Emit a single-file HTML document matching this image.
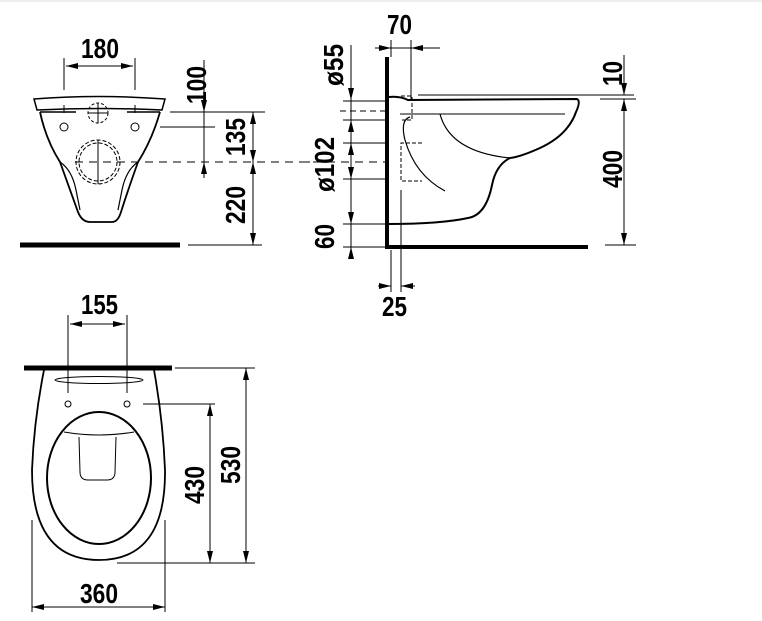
<!DOCTYPE html>
<html><head><meta charset="utf-8"><style>
html,body{margin:0;padding:0;background:#fff;}
svg{display:block;}
text{font-family:"Liberation Sans",sans-serif;font-weight:bold;font-size:28px;fill:#000;}
</style></head><body>
<svg width="762" height="621" viewBox="0 0 762 621" xmlns="http://www.w3.org/2000/svg">
<defs>
<marker id="a" viewBox="0 0 12 6" refX="12" refY="3" markerWidth="12" markerHeight="6" orient="auto-start-reverse" markerUnits="userSpaceOnUse"><path d="M0,0 L12,3 L0,6 Z" fill="#000"/></marker>
</defs>
<line x1="0" y1="1" x2="762" y2="1" stroke="#eee" stroke-width="2"/>
<g stroke="#000" fill="none" stroke-width="1">
<!-- FRONT VIEW -->
<line x1="64" y1="58" x2="64" y2="90"/><line x1="135" y1="58" x2="135" y2="90"/>
<line x1="64" y1="105" x2="64" y2="113"/><line x1="135" y1="105" x2="135" y2="113"/>
<line x1="66" y1="66" x2="133" y2="66" marker-start="url(#a)" marker-end="url(#a)"/>
<path d="M34,99 Q99,94 165,99 L162,110 Q99,107 37,110 Z" stroke-width="1.5"/>
<line x1="40" y1="112" x2="76" y2="112" stroke-width="1.5"/><line x1="127" y1="112" x2="160" y2="112" stroke-width="1.5"/>
<path d="M40,112 Q46,140 60,162 Q70,190 78,212 Q82,222 90,222 L112,222 Q118,222 121,212 Q128,190 138,162 Q152,140 160,112" stroke-width="1.8"/>
<path d="M60,162 Q72,170 76,190 L80,210" stroke-width="1.2"/>
<path d="M138,162 Q126,170 122,190 L118,210" stroke-width="1.2"/>
<circle cx="64" cy="127" r="4"/><circle cx="135" cy="127" r="4"/>
<circle cx="98" cy="113" r="10" stroke-dasharray="3,2"/>
<circle cx="98" cy="162" r="19" stroke-dasharray="4,2"/>
<circle cx="98" cy="162" r="22" stroke-dasharray="4,2"/>
<line x1="98" y1="103" x2="98" y2="123"/><line x1="88" y1="113" x2="108" y2="113"/>
<line x1="98" y1="140" x2="98" y2="184"/>
<line x1="75" y1="162" x2="386" y2="162" stroke-dasharray="8,6"/>
<line x1="20" y1="245" x2="180" y2="245" stroke-width="5"/>
<line x1="204" y1="60" x2="204" y2="112" marker-end="url(#a)"/>
<line x1="204" y1="178" x2="204" y2="162" marker-end="url(#a)"/>
<line x1="204" y1="112" x2="204" y2="162"/>
<line x1="170" y1="112" x2="265" y2="112"/>
<line x1="160" y1="127" x2="215" y2="127"/>
<line x1="253" y1="112" x2="253" y2="162" marker-start="url(#a)" marker-end="url(#a)"/>
<line x1="253" y1="162" x2="253" y2="245" marker-start="url(#a)" marker-end="url(#a)"/>
<line x1="188" y1="245" x2="262" y2="245"/>
<!-- SIDE VIEW -->
<line x1="387" y1="57" x2="387" y2="248" stroke-width="4"/>
<line x1="385" y1="247" x2="588" y2="247" stroke-width="4"/>
<line x1="375" y1="48" x2="391" y2="48" marker-end="url(#a)"/>
<line x1="440" y1="48" x2="411" y2="48" marker-end="url(#a)"/>
<line x1="391" y1="48" x2="411" y2="48"/>
<line x1="391" y1="40" x2="391" y2="57"/><line x1="411" y1="40" x2="411" y2="100"/>
<line x1="351" y1="45" x2="351" y2="100" marker-end="url(#a)"/>
<line x1="351" y1="100" x2="351" y2="120"/>
<line x1="351" y1="143" x2="351" y2="120" marker-end="url(#a)"/>
<line x1="351" y1="143" x2="351" y2="162" marker-start="url(#a)"/>
<line x1="351" y1="162" x2="351" y2="179" marker-end="url(#a)"/>
<line x1="351" y1="179" x2="351" y2="224" marker-end="url(#a)"/>
<line x1="351" y1="258" x2="351" y2="247" marker-end="url(#a)"/>
<line x1="351" y1="224" x2="351" y2="247"/>
<line x1="343" y1="101" x2="387" y2="101"/>
<line x1="340" y1="111" x2="387" y2="111" stroke-dasharray="6,4"/>
<line x1="343" y1="120" x2="387" y2="120"/>
<line x1="343" y1="143" x2="387" y2="143"/>
<line x1="343" y1="179" x2="387" y2="179"/>
<line x1="343" y1="224" x2="387" y2="224"/>
<line x1="343" y1="247" x2="387" y2="247"/>
<line x1="302" y1="162" x2="310" y2="162"/>
<path d="M389,97 Q400,96 408,100 L577,99 Q581,101 576,112 Q568,135 540,148 Q520,157 510,158 Q496,165 492,185 Q486,215 468,218 Q440,224 389,224" stroke-width="2"/>
<line x1="418" y1="95" x2="634" y2="95"/>
<line x1="400" y1="114" x2="565" y2="114"/>
<line x1="600" y1="99" x2="636" y2="99"/>
<path d="M440,114 Q450,152 510,158" stroke-width="1.2"/>
<path d="M410,117 Q400,120 405,140 Q415,175 445,191" stroke-width="1.2"/>
<path d="M401,96 L412,96 L412,120 L402,120" stroke-dasharray="4,2"/>
<path d="M422,143 L401,143 L401,181 L422,181" stroke-dasharray="4,2"/>
<line x1="624" y1="55" x2="624" y2="95" marker-end="url(#a)"/>
<line x1="624" y1="99" x2="624" y2="245" marker-start="url(#a)" marker-end="url(#a)"/>
<line x1="605" y1="245" x2="636" y2="245"/>
<line x1="391" y1="250" x2="391" y2="292"/><line x1="401" y1="190" x2="401" y2="292"/>
<line x1="378" y1="286" x2="391" y2="286" marker-end="url(#a)"/>
<line x1="415" y1="286" x2="401" y2="286" marker-end="url(#a)"/>
<!-- TOP VIEW -->
<line x1="68" y1="315" x2="68" y2="393"/><line x1="127" y1="315" x2="127" y2="393"/>
<line x1="70" y1="324" x2="125" y2="324" marker-start="url(#a)" marker-end="url(#a)"/>
<line x1="24" y1="368" x2="172" y2="368" stroke-width="5"/>
<path d="M44,370 Q34,420 32,470 Q32,560 99,560 Q166,560 165,470 Q163,420 154,370" stroke-width="1.8"/>
<ellipse cx="99" cy="380" rx="44" ry="3.5"/>
<ellipse cx="99" cy="478" rx="52" ry="66" stroke-width="2"/>
<path d="M64,432 Q99,438 134,432" stroke-width="1"/>
<path d="M79,437 L80,472 Q80,480 88,480 L107,480 Q115,480 115,472 L116,437" stroke-width="1"/>
<circle cx="68" cy="404" r="3"/><circle cx="127" cy="404" r="3"/>
<line x1="143" y1="404" x2="215" y2="404"/>
<line x1="210" y1="404" x2="210" y2="563" marker-start="url(#a)" marker-end="url(#a)"/>
<line x1="246" y1="368" x2="246" y2="563" marker-start="url(#a)" marker-end="url(#a)"/>
<line x1="175" y1="368" x2="255" y2="368"/>
<line x1="117" y1="563" x2="255" y2="563"/>
<line x1="32" y1="520" x2="32" y2="612"/><line x1="165" y1="520" x2="165" y2="612"/>
<line x1="32" y1="607" x2="165" y2="607" marker-start="url(#a)" marker-end="url(#a)"/>
</g>
<g>
<text x="81" y="58" textLength="38" lengthAdjust="spacingAndGlyphs">180</text>
<text x="81" y="314" textLength="37" lengthAdjust="spacingAndGlyphs">155</text>
<text x="80" y="603" textLength="38" lengthAdjust="spacingAndGlyphs">360</text>
<text x="387" y="34" textLength="25" lengthAdjust="spacingAndGlyphs">70</text>
<text x="382" y="316" textLength="25" lengthAdjust="spacingAndGlyphs">25</text>
<text transform="translate(206,104) rotate(-90)" textLength="38" lengthAdjust="spacingAndGlyphs">100</text>
<text transform="translate(245,156) rotate(-90)" textLength="38" lengthAdjust="spacingAndGlyphs">135</text>
<text transform="translate(245,224) rotate(-90)" textLength="38" lengthAdjust="spacingAndGlyphs">220</text>
<text transform="translate(343,86) rotate(-90)" textLength="42" lengthAdjust="spacingAndGlyphs">ø55</text>
<text transform="translate(334,192) rotate(-90)" textLength="55" lengthAdjust="spacingAndGlyphs">ø102</text>
<text transform="translate(334,249) rotate(-90)" textLength="25" lengthAdjust="spacingAndGlyphs">60</text>
<text transform="translate(622,86) rotate(-90)" textLength="25" lengthAdjust="spacingAndGlyphs">10</text>
<text transform="translate(622,188) rotate(-90)" textLength="38" lengthAdjust="spacingAndGlyphs">400</text>
<text transform="translate(204,504) rotate(-90)" textLength="38" lengthAdjust="spacingAndGlyphs">430</text>
<text transform="translate(240,484) rotate(-90)" textLength="38" lengthAdjust="spacingAndGlyphs">530</text>
</g>
</svg>
</body></html>
